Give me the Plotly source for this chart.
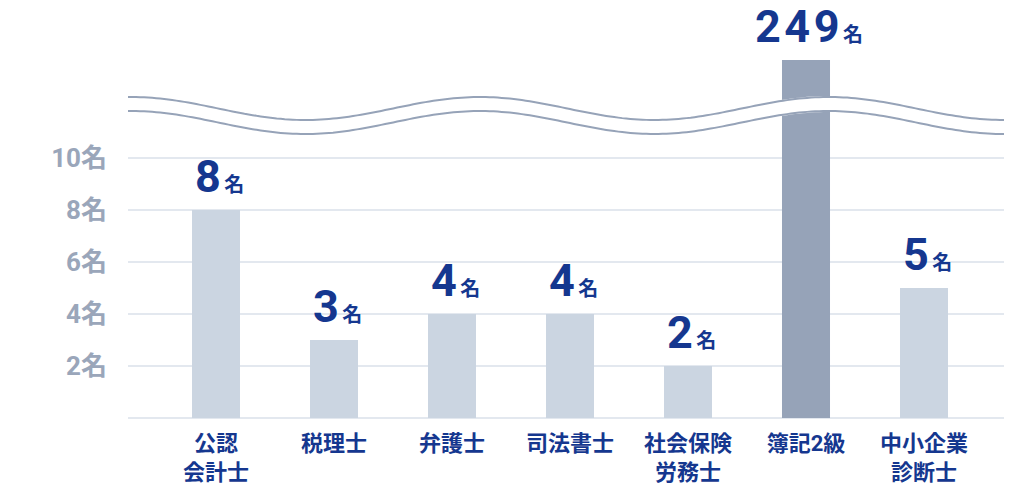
import numpy as np
import plotly.graph_objects as go

# データ
categories = ["公認<br>会計士", "税理士", "弁護士", "司法書士", "社会保険<br>労務士", "簿記2級", "中小企業<br>診断士"]
counts = [8, 3, 4, 4, 2, 249, 5]
tick_vals = [2, 4, 6, 8, 10]
tick_text = ["2名", "4名", "6名", "8名", "10名"]

W, H = 1012, 488
OFF = 8  # ページ余白ぶんのずれ
ML, MR, MT, MB = 128 - OFF, 12, 2, 78
PX_PER_UNIT = 26
Y_TOP = (H - MT - MB) / PX_PER_UNIT
CAP = 13.77  # 途中省略した棒の表示上の高さ
X0, STEP = 216 - OFF, 118

NAVY = "#15378f"
GREY_TXT = "#9aa6ba"
BAR = "#cbd5e1"
BAR_HI = "#96a3b8"
GRID = "#e3e8ef"
FONT = "Roboto, 'Noto Sans CJK JP', sans-serif"

xs = list(range(len(categories)))
shown = [min(v, CAP) for v in counts]
colors = [BAR_HI if v > 10 else BAR for v in counts]

fig = go.Figure(go.Bar(x=xs, y=shown, width=0.407, marker=dict(color=colors, line=dict(width=0)),
                       hoverinfo="skip"))

# 数値ラベル
for x, v, s in zip(xs, counts, shown):
    fig.add_annotation(x=x, y=s, yanchor="bottom", yshift=5, xshift=3, showarrow=False,
                       text=f'<span style="letter-spacing:3.5px">{v}</span><span style="font-size:20px">名</span>',
                       font=dict(family=FONT, size=45, color=NAVY, weight="bold"))

# 波線（省略記号）
def px_to_paper(px, py):
    return (px - OFF - ML) / (W - ML - MR), (H - MB - (py - OFF)) / (H - MT - MB)

wx = np.linspace(128, 1008, 220)
top = 108.5 - 11.5 * np.cos(2 * np.pi * (wx - 131) / 349)
bot = top + 14
def path(xx, yy):
    pts = [px_to_paper(a, b) for a, b in zip(xx, yy)]
    return "M " + " L ".join(f"{a:.4f},{b:.4f}" for a, b in pts)

band = path(np.r_[wx, wx[::-1]], np.r_[top - 1, (bot + 1)[::-1]]) + " Z"
fig.add_shape(type="path", path=band, xref="paper", yref="paper", fillcolor="white",
              line=dict(width=0), layer="above")
for yy in (top, bot):
    fig.add_shape(type="path", path=path(wx, yy), xref="paper", yref="paper",
                  line=dict(color=BAR_HI, width=2), layer="above")

fig.update_layout(
    width=W, height=H, margin=dict(l=ML, r=MR, t=MT, b=MB),
    plot_bgcolor="white", paper_bgcolor="white", showlegend=False,
    font=dict(family=FONT),
    xaxis=dict(range=[-X0 / STEP + ML / STEP, (W - MR - X0) / STEP], tickvals=xs, ticktext=categories,
               showgrid=False, zeroline=False, showline=False, ticks="", ticklabelstandoff=10,
               tickfont=dict(size=22, color=NAVY, weight="bold")),
    yaxis=dict(range=[0, Y_TOP], tickvals=tick_vals, ticktext=tick_text,
               showgrid=True, gridcolor=GRID, gridwidth=2,
               zeroline=True, zerolinecolor=GRID, zerolinewidth=2,
               showline=False, ticks="", ticklabelstandoff=20,
               tickfont=dict(size=26, color=GREY_TXT, weight="bold")),
)

fig.write_html("out.html")
